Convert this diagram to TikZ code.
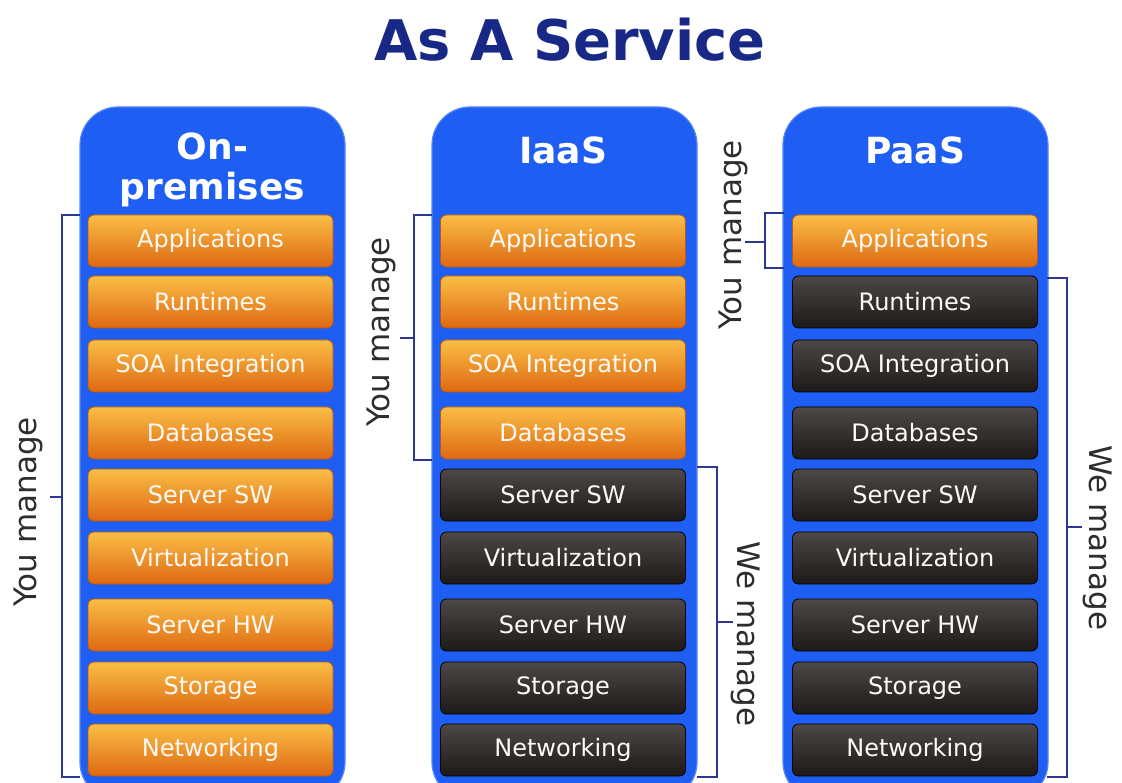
\documentclass[tikz,border=0pt]{standalone}
\usepackage{fontspec}
\setmainfont{DejaVu Sans}
\definecolor{colblue}{RGB}{31,94,242}
\definecolor{navy}{RGB}{24,40,135}
\definecolor{orangeT}{RGB}{250,190,70}
\definecolor{orangeM}{RGB}{242,134,32}
\definecolor{orangeB}{RGB}{222,104,18}
\definecolor{darkT}{RGB}{78,72,72}
\definecolor{darkB}{RGB}{28,25,25}
\definecolor{brk}{RGB}{45,55,145}
\definecolor{lbl}{RGB}{45,45,45}
\begin{document}
\begin{tikzpicture}[x=1pt,y=-1pt,
  col/.style={fill=colblue, draw=colblue!75!white, line width=1.2pt, rounded corners=38pt, minimum width=265pt, minimum height=693pt, inner sep=0},
  head/.style={text=white, font=\bfseries\fontsize{36}{40}\selectfont, align=center},
  box/.style={minimum width=245pt, minimum height=52pt, rounded corners=6pt, inner sep=0, text=white!96!orange, font=\fontsize{24}{24}\selectfont},
  ob/.style={box, top color=orangeT, middle color=orangeM, bottom color=orangeB, draw=orangeB!85!black, line width=0.8pt},
  db/.style={box, top color=darkT, bottom color=darkB, draw=black, line width=0.8pt},
  brack/.style={draw=brk, line width=1.2pt},
  mlab/.style={text=lbl, font=\fontsize{31}{31}\selectfont}]
\useasboundingbox (0,0) rectangle (1122,783);
\fill[white] (0,0) rectangle (1122,783);

\node[text=navy, font=\bfseries\fontsize{56}{56}\selectfont] (title) at (570,40) {As A Service};

\node[col] (colA) at (212.5,453.5) {};
\node[col] (colB) at (564.5,453.5) {};
\node[col] (colC) at (915.5,453.5) {};

\node[head] (hA) at (212.5,170) {On-\\premises};
\node[head] (hB) at (563,150) {IaaS};
\node[head] (hC) at (915,150) {PaaS};

% column 1
\node[ob] (a1) at (210.5,241) {Applications};
\node[ob] (a2) at (210.5,302) {Runtimes};
\node[ob] (a3) at (210.5,366) {SOA Integration};
\node[ob] (a4) at (210.5,433) {Databases};
\node[ob] (a5) at (210.5,495) {Server SW};
\node[ob] (a6) at (210.5,558) {Virtualization};
\node[ob] (a7) at (210.5,625) {Server HW};
\node[ob] (a8) at (210.5,688) {Storage};
\node[ob] (a9) at (210.5,750) {Networking};
% column 2
\node[ob] (b1) at (563,241) {Applications};
\node[ob] (b2) at (563,302) {Runtimes};
\node[ob] (b3) at (563,366) {SOA Integration};
\node[ob] (b4) at (563,433) {Databases};
\node[db] (b5) at (563,495) {Server SW};
\node[db] (b6) at (563,558) {Virtualization};
\node[db] (b7) at (563,625) {Server HW};
\node[db] (b8) at (563,688) {Storage};
\node[db] (b9) at (563,750) {Networking};
% column 3
\node[ob] (c1) at (915,241) {Applications};
\node[db] (c2) at (915,302) {Runtimes};
\node[db] (c3) at (915,366) {SOA Integration};
\node[db] (c4) at (915,433) {Databases};
\node[db] (c5) at (915,495) {Server SW};
\node[db] (c6) at (915,558) {Virtualization};
\node[db] (c7) at (915,625) {Server HW};
\node[db] (c8) at (915,688) {Storage};
\node[db] (c9) at (915,750) {Networking};

% brackets
\draw[brack] (80,215) -- (62,215) -- (62,777) -- (80,777);
\draw[brack] (62,497) -- (50,497);
\node[mlab, rotate=90] (lA) at (28,512) {You manage};

\draw[brack] (432,215) -- (414,215) -- (414,460) -- (432,460);
\draw[brack] (414,338) -- (400,338);
\node[mlab, rotate=90] (lB) at (381,332) {You manage};

\draw[brack] (697,467) -- (717,467) -- (717,777) -- (697,777);
\draw[brack] (717,622) -- (733,622);
\node[mlab, rotate=-90] (rB) at (746,634) {We manage};

\draw[brack] (784,213) -- (765,213) -- (765,268) -- (784,268);
\draw[brack] (765,242) -- (745,242);
\node[mlab, rotate=90] (lC) at (733,235) {You manage};

\draw[brack] (1047,278) -- (1067,278) -- (1067,777) -- (1047,777);
\draw[brack] (1067,527) -- (1082,527);
\node[mlab, rotate=-90] (rC) at (1098,538) {We manage};
\end{tikzpicture}
\end{document}
